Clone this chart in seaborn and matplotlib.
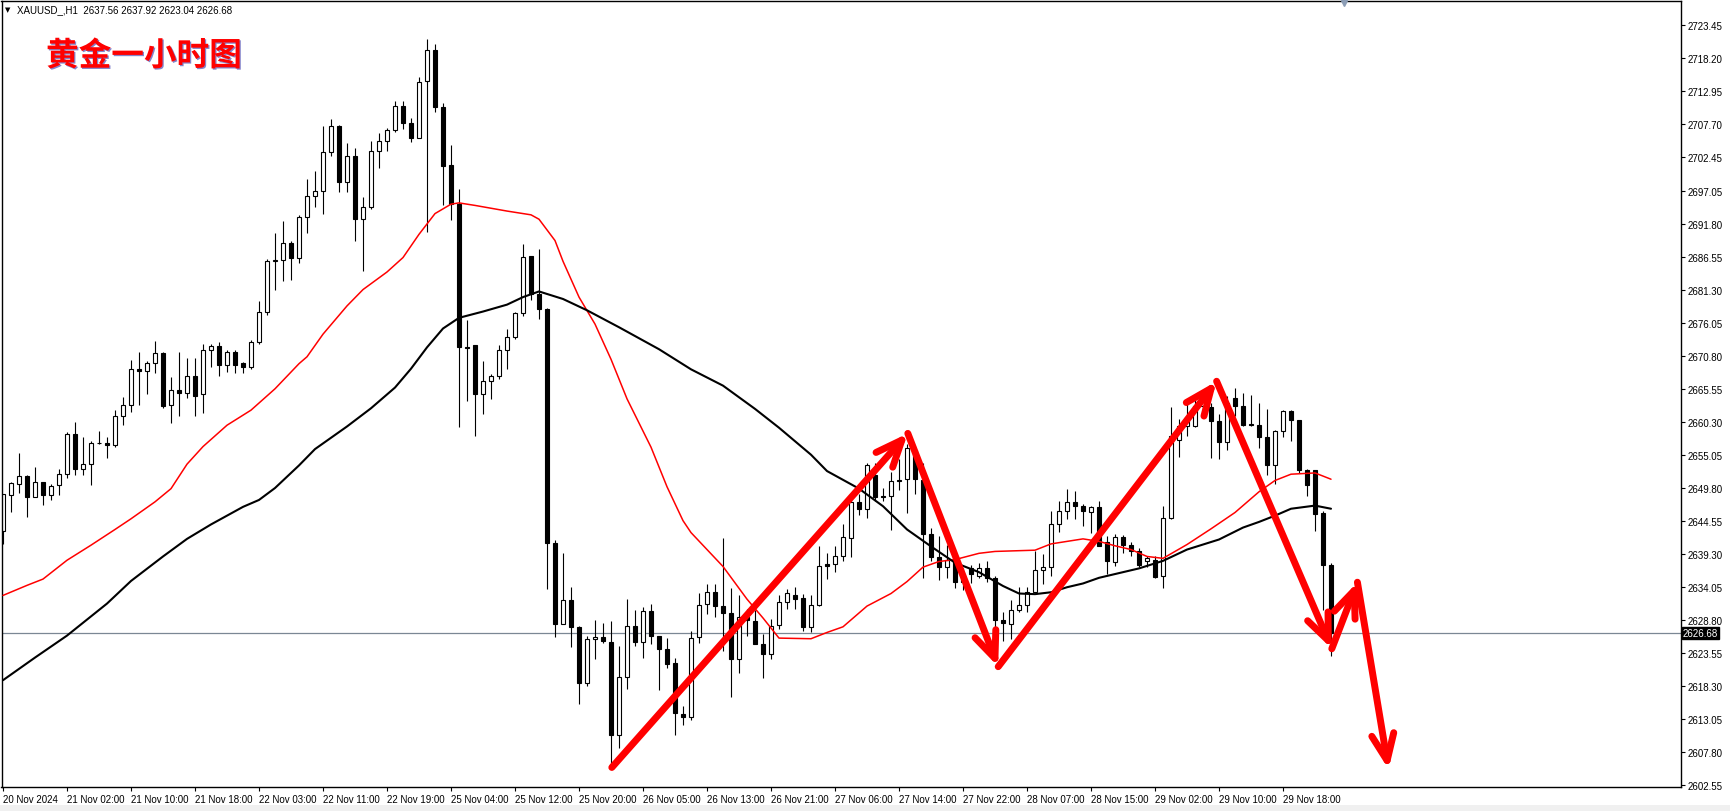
import numpy as np
import matplotlib
matplotlib.use("Agg")
import matplotlib.pyplot as plt
import matplotlib.patheffects as pe
import matplotlib.transforms as mtransforms
from matplotlib.patches import Rectangle
import seaborn as sns

sns.set_theme(style="white")
plt.rcParams["font.family"] = ["Liberation Sans", "DejaVu Sans"]

# XAUUSD H1 candles (oldest first)
opens = [
    2643.0, 2648.7, 2650.5, 2651.7, 2648.4, 2650.7, 2648.7, 2650.2, 2652.1, 2658.35,
    2652.8, 2653.6, 2656.9, 2656.9, 2656.65, 2661.2, 2663.0, 2668.7, 2668.5, 2669.7,
    2671.25, 2663.0, 2665.35, 2664.9, 2667.6, 2664.7, 2671.7, 2672.4, 2669.4, 2671.4,
    2669.7, 2669.0, 2673.0, 2677.8, 2686.0, 2686.05, 2688.8, 2686.5, 2692.9, 2696.35,
    2697.15, 2703.25, 2707.5, 2698.6, 2702.7, 2692.7, 2694.5, 2703.5, 2705.0, 2706.8,
    2710.7, 2708.0, 2705.6, 2714.65, 2719.6, 2710.5, 2701.2, 2695.0, 2672.3, 2672.6,
    2664.7, 2666.8, 2667.7, 2671.8, 2673.8, 2677.6, 2686.8, 2680.7, 2678.3, 2641.1,
    2628.2, 2631.9, 2627.7, 2618.8, 2625.7, 2626.0, 2625.2, 2610.5, 2619.7, 2627.9,
    2625.2, 2630.2, 2626.2, 2624.1, 2621.9, 2613.8, 2613.3, 2626.0, 2631.3, 2633.2,
    2631.0, 2629.85, 2622.5, 2629.3, 2628.6, 2624.9, 2623.4, 2628.0, 2631.6, 2632.7,
    2632.3, 2627.7, 2631.1, 2637.7, 2637.7, 2638.9, 2641.9, 2647.6, 2646.5, 2651.9,
    2648.6, 2648.6, 2651.0, 2651.2, 2655.9, 2651.0, 2642.5, 2638.8, 2637.2, 2638.4,
    2634.8, 2637.0, 2635.8, 2637.0, 2635.5, 2628.8, 2628.2, 2630.3, 2631.1, 2633.3,
    2636.75, 2637.2, 2644.1, 2646.1, 2647.5, 2646.9, 2646.0, 2646.7, 2641.2, 2638.0,
    2642.0, 2640.7, 2639.8, 2638.1, 2638.4, 2635.8, 2645.0, 2657.4, 2659.7, 2659.7,
    2662.9, 2662.65, 2660.5, 2657.2, 2664.1, 2662.8, 2660.0, 2659.9, 2657.9, 2653.4,
    2658.8, 2662.0, 2660.6, 2652.6, 2652.6, 2645.8, 2637.56,
]
highs = [
    2648.9, 2650.7, 2655.4, 2651.8, 2653.2, 2650.8, 2650.4, 2652.8, 2658.7, 2660.3,
    2658.0, 2657.3, 2658.8, 2658.0, 2662.2, 2664.3, 2670.2, 2671.4, 2670.0, 2673.2,
    2671.4, 2667.5, 2671.4, 2670.45, 2670.45, 2672.8, 2672.8, 2673.0, 2671.7, 2671.8,
    2669.9, 2673.4, 2679.5, 2686.3, 2690.4, 2692.3, 2689.1, 2693.2, 2699.0, 2700.3,
    2707.5, 2708.6, 2707.6, 2704.7, 2703.9, 2696.1, 2705.0, 2706.4, 2707.2, 2711.4,
    2711.4, 2708.7, 2715.2, 2721.3, 2720.5, 2711.1, 2704.4, 2697.4, 2676.5, 2672.6,
    2670.0, 2667.9, 2672.6, 2675.1, 2677.9, 2688.65, 2686.8, 2687.9, 2678.5, 2641.6,
    2639.5, 2634.1, 2627.8, 2626.3, 2628.8, 2628.3, 2628.6, 2624.7, 2632.1, 2630.4,
    2630.8, 2631.3, 2626.3, 2625.9, 2622.7, 2615.1, 2627.1, 2633.1, 2634.5, 2634.5,
    2641.8, 2633.8, 2632.7, 2630.5, 2630.3, 2626.5, 2629.0, 2632.8, 2633.7, 2634.0,
    2632.9, 2632.7, 2640.6, 2639.5, 2640.5, 2644.0, 2648.0, 2648.9, 2653.8, 2653.8,
    2649.8, 2652.4, 2654.4, 2656.8, 2656.5, 2653.8, 2643.4, 2642.2, 2640.7, 2638.5,
    2637.0, 2637.6, 2637.9, 2638.2, 2635.8, 2630.0, 2632.0, 2634.0, 2634.0, 2639.7,
    2639.3, 2646.2, 2647.8, 2649.6, 2649.4, 2647.3, 2647.0, 2647.8, 2642.2, 2642.5,
    2642.3, 2641.2, 2640.2, 2639.0, 2638.9, 2647.0, 2662.65, 2660.8, 2664.0, 2664.5,
    2665.2, 2663.4, 2661.6, 2664.5, 2665.7, 2665.0, 2664.6, 2663.4, 2662.4, 2659.0,
    2662.2, 2662.2, 2660.6, 2652.8, 2652.7, 2646.2, 2637.92,
]
lows = [
    2640.9, 2646.0, 2649.0, 2645.2, 2648.3, 2647.15, 2647.9, 2648.7, 2651.4, 2651.8,
    2651.9, 2650.3, 2656.8, 2654.5, 2656.4, 2659.9, 2661.85, 2663.0, 2664.7, 2668.1,
    2662.6, 2660.1, 2661.3, 2664.2, 2661.2, 2661.7, 2669.0, 2667.7, 2668.3, 2668.1,
    2668.1, 2668.75, 2672.7, 2677.3, 2681.4, 2682.8, 2683.0, 2685.7, 2690.4, 2694.6,
    2693.4, 2702.6, 2696.9, 2696.9, 2689.2, 2684.3, 2694.2, 2700.7, 2703.4, 2706.5,
    2706.9, 2704.95, 2705.6, 2690.5, 2709.7, 2694.8, 2692.4, 2659.5, 2663.7, 2658.1,
    2661.6, 2663.9, 2667.2, 2668.8, 2673.5, 2677.25, 2679.8, 2676.7, 2633.66, 2626.1,
    2628.1, 2624.5, 2615.4, 2618.2, 2622.5, 2625.1, 2605.3, 2608.4, 2617.8, 2624.7,
    2622.8, 2625.0, 2617.7, 2621.1, 2610.5, 2612.1, 2612.8, 2625.1, 2629.8, 2629.2,
    2623.9, 2616.6, 2620.3, 2626.3, 2624.9, 2619.5, 2622.6, 2627.3, 2630.6, 2630.5,
    2627.1, 2626.9, 2631.0, 2635.3, 2636.5, 2638.1, 2638.8, 2645.5, 2645.1, 2647.7,
    2647.7, 2643.1, 2649.5, 2645.8, 2648.9, 2635.5, 2638.2, 2635.2, 2635.5, 2633.8,
    2633.5, 2634.6, 2635.5, 2634.8, 2627.0, 2625.4, 2625.8, 2630.0, 2630.1, 2633.2,
    2634.5, 2635.8, 2642.8, 2644.8, 2644.9, 2643.8, 2642.6, 2640.6, 2636.1, 2637.4,
    2639.5, 2639.0, 2637.2, 2637.2, 2635.4, 2633.8, 2644.9, 2654.7, 2658.1, 2659.5,
    2662.0, 2654.5, 2654.4, 2655.8, 2661.3, 2659.6, 2659.7, 2656.1, 2651.8, 2650.4,
    2657.9, 2657.3, 2652.2, 2648.6, 2642.9, 2630.3, 2623.04,
]
closes = [
    2648.85, 2650.6, 2651.7, 2648.4, 2650.7, 2648.7, 2650.1, 2652.1, 2658.35, 2652.8,
    2653.6, 2656.9, 2657.0, 2656.7, 2661.3, 2663.0, 2668.7, 2668.5, 2669.7, 2671.25,
    2662.9, 2665.35, 2664.9, 2667.6, 2664.5, 2671.7, 2672.4, 2669.4, 2671.4, 2669.4,
    2669.0, 2673.0, 2677.8, 2685.9, 2686.1, 2688.8, 2686.5, 2692.9, 2696.35, 2697.15,
    2703.25, 2707.5, 2698.6, 2702.7, 2692.7, 2694.5, 2703.5, 2705.0, 2706.8, 2710.7,
    2708.0, 2705.6, 2714.4, 2719.6, 2710.5, 2701.0, 2695.0, 2672.2, 2672.1, 2664.7,
    2666.8, 2667.7, 2671.8, 2673.8, 2677.6, 2686.6, 2680.7, 2678.3, 2641.1, 2628.2,
    2631.9, 2627.7, 2618.8, 2625.7, 2626.0, 2625.4, 2610.45, 2619.7, 2627.9, 2625.2,
    2630.2, 2626.2, 2624.1, 2621.85, 2613.9, 2613.3, 2625.9, 2631.2, 2633.2, 2631.0,
    2629.85, 2622.5, 2629.3, 2628.8, 2624.9, 2623.3, 2627.9, 2631.6, 2633.1, 2632.2,
    2627.7, 2631.2, 2637.4, 2637.4, 2638.9, 2641.95, 2647.6, 2646.5, 2653.5, 2648.3,
    2648.3, 2650.9, 2650.9, 2656.2, 2651.2, 2642.5, 2638.8, 2637.2, 2638.4, 2634.8,
    2636.0, 2636.1, 2637.0, 2635.5, 2628.8, 2628.3, 2630.3, 2631.1, 2633.3, 2636.75,
    2637.3, 2644.1, 2646.1, 2647.5, 2646.9, 2646.1, 2646.7, 2640.6, 2638.1, 2642.0,
    2640.7, 2639.8, 2637.6, 2638.6, 2635.7, 2645.0, 2658.1, 2659.7, 2661.1, 2662.9,
    2663.9, 2660.5, 2657.2, 2663.3, 2662.8, 2659.8, 2659.9, 2657.9, 2653.4, 2658.8,
    2662.0, 2660.6, 2652.6, 2650.3, 2645.7, 2637.6, 2626.68,
]

# moving averages (red = fast, black = slow), sampled at these bars
red_ma_bars = [0, 3, 5, 8, 11, 14, 16, 19, 21, 23, 25, 28, 31, 34, 37, 38, 40, 43, 45, 48,
               50, 52, 54, 56, 57, 59, 63, 66, 67, 69, 70, 72, 74, 76, 78, 81, 83, 85, 86, 88,
               90, 93, 95, 97, 101, 103, 105, 108, 111, 113, 115, 117, 119, 122, 124, 129,
               131, 135, 137, 139, 141, 143, 145, 148, 151, 154, 157, 159, 161, 164, 166]
red_ma = [2632.7, 2634.3, 2635.3, 2638.3, 2640.7, 2643.2, 2644.9, 2647.6, 2649.7, 2653.6,
          2656.4, 2659.8, 2662.2, 2665.6, 2669.6, 2670.7, 2674.3, 2678.8, 2681.4, 2684.2,
          2686.5, 2690.2, 2693.5, 2695.0, 2695.2, 2694.8, 2693.9, 2693.3, 2692.6, 2689.2,
          2685.9, 2680.2, 2675.9, 2670.3, 2664.0, 2656.3, 2650.0, 2644.6, 2642.7, 2640.0,
          2637.3, 2632.1, 2629.1, 2625.9, 2625.8, 2626.8, 2627.7, 2631.0, 2633.0, 2634.9,
          2637.2, 2638.1, 2638.4, 2639.4, 2639.7, 2639.9, 2640.9, 2641.7, 2641.3, 2640.6,
          2640.0, 2638.9, 2638.6, 2640.8, 2643.3, 2645.9, 2649.2, 2651.0, 2652.0, 2652.2,
          2651.2]
black_ma_bars = [0, 4, 8, 13, 16, 20, 23, 26, 30, 32, 34, 37, 39, 43, 46, 49, 51, 53, 55, 57,
                 60, 63, 65, 67, 70, 73, 77, 82, 86, 90, 94, 97, 101, 103, 107, 110, 113, 116,
                 119, 122, 125, 127, 129, 131, 133, 135, 137, 139, 142, 145, 148, 152, 155,
                 157, 159, 161, 164, 166]
black_ma = [2619.2, 2622.8, 2626.3, 2631.4, 2635.0, 2638.9, 2641.7, 2644.0, 2646.8, 2647.9,
            2649.8, 2653.4, 2656.0, 2659.6, 2662.5, 2665.8, 2668.8, 2672.2, 2675.2, 2676.9,
            2677.9, 2679.0, 2680.2, 2681.1, 2679.9, 2678.1, 2675.4, 2671.9, 2668.7, 2666.1,
            2662.4, 2659.4, 2655.1, 2652.5, 2649.7, 2646.9, 2643.2, 2640.5, 2637.9, 2636.4,
            2634.2, 2633.0, 2632.9, 2633.2, 2634.0, 2634.6, 2635.5, 2636.1, 2637.0, 2638.2,
            2640.0, 2641.6, 2643.5, 2644.4, 2645.4, 2646.5, 2647.0, 2646.5]

# hand drawn red arrows (bar, price)
arrow_bars = [76.1, 113.1, 124.4, 151.7, 166.1, 169.3, 173.2]
arrow_prices = [2605.3, 2658.5, 2621.35, 2666.8, 2624.2, 2634.8, 2605.0]

tick_bars = list(range(0, 161, 8))
tick_labels = ["20 Nov 2024", "21 Nov 02:00", "21 Nov 10:00", "21 Nov 18:00",
               "22 Nov 03:00", "22 Nov 11:00", "22 Nov 19:00", "25 Nov 04:00",
               "25 Nov 12:00", "25 Nov 20:00", "26 Nov 05:00", "26 Nov 13:00",
               "26 Nov 21:00", "27 Nov 06:00", "27 Nov 14:00", "27 Nov 22:00",
               "28 Nov 07:00", "28 Nov 15:00", "29 Nov 02:00", "29 Nov 10:00",
               "29 Nov 18:00"]
price_ticks = [2723.45, 2718.20, 2712.95, 2707.70, 2702.45, 2697.05, 2691.80, 2686.55,
               2681.30, 2676.05, 2670.80, 2665.55, 2660.30, 2655.05, 2649.80, 2644.55,
               2639.30, 2634.05, 2628.80, 2623.55, 2618.30, 2613.05, 2607.80, 2602.55]

symbol = "XAUUSD_,H1"
title = "黄金一小时图"

o = np.array(opens)
h = np.array(highs)
l = np.array(lows)
c = np.array(closes)
x = np.arange(len(o))
bull = c >= o

fig = plt.figure(figsize=(17.3, 8.12), dpi=100)
fig.patch.set_facecolor("white")
ax = fig.add_axes([1.5 / 1730, 24 / 812, 1679.5 / 1730, 786 / 812])
ax.set_facecolor("white")

# candles
ax.vlines(x, l, h, color="black", linewidth=0.8, zorder=2)
body_bottom = np.minimum(o, c)
body_h = np.maximum(np.abs(c - o), 0.12)
ax.bar(x[bull], body_h[bull], bottom=body_bottom[bull], width=0.6,
       color="white", edgecolor="black", linewidth=0.8, zorder=2.5)
ax.bar(x[~bull], body_h[~bull], bottom=body_bottom[~bull], width=0.6,
       color="black", edgecolor="black", linewidth=0.8, zorder=2.5)

# moving averages
sns.lineplot(x=red_ma_bars, y=red_ma, color="#ff0000", linewidth=1.1, ax=ax, zorder=3)
sns.lineplot(x=black_ma_bars, y=black_ma, color="black", linewidth=1.5, ax=ax, zorder=3)

# current price line
last = closes[-1]
ax.axhline(last, color="#7b8794", linewidth=0.9, zorder=1.5)

# red arrows
for i in range(len(arrow_bars) - 1):
    ax.annotate("", xy=(arrow_bars[i + 1], arrow_prices[i + 1]),
                xytext=(arrow_bars[i], arrow_prices[i]),
                arrowprops=dict(arrowstyle="->,head_length=0.95,head_width=0.4",
                                color="#ff0000", lw=5, shrinkA=0, shrinkB=0,
                                mutation_scale=20),
                zorder=4)

ax.set_xlim(-0.19, 209.75)
ax.set_ylim(2602.19, 2727.35)
ax.grid(False)
ax.set_xlabel("")
ax.set_ylabel("")

for s in ax.spines.values():
    s.set_color("black")
    s.set_linewidth(1.0)
    s.set_visible(True)

ax.set_yticks(price_ticks)
ax.set_yticklabels([f"{v:.2f}" for v in price_ticks])
ax.yaxis.tick_right()
ax.tick_params(axis="y", which="major", right=True, left=False, labelright=True,
               labelleft=False, direction="out", length=3, width=0.8, pad=2,
               labelsize=7, colors="black")

ax.set_xticks(tick_bars)
ax.set_xticklabels(tick_labels)
ax.tick_params(axis="x", which="major", bottom=True, top=False, direction="out",
               length=3, width=0.8, pad=2, labelsize=7, colors="black")
for lab in ax.get_xticklabels():
    lab.set_horizontalalignment("left")

# current price tag on the price scale
tag = mtransforms.blended_transform_factory(ax.transAxes, ax.transData)
ax.text(1.0012, last, f"{last:.2f}", transform=tag, color="white", fontsize=7,
        ha="left", va="center", clip_on=False, zorder=5,
        bbox=dict(boxstyle="square,pad=0.12", facecolor="black", edgecolor="black"))

# chart shift marker on the top edge
top = mtransforms.blended_transform_factory(ax.transData, ax.transAxes)
ax.plot([len(o) + 0.6], [0.997], marker="v", markersize=5, color="#8c9db5",
        transform=top, clip_on=False, zorder=5)

# header
fig.text(5 / 1730, 1 - 10 / 812, "\u25bc", fontsize=5, family="DejaVu Sans",
         color="black", va="center", ha="left")
fig.text(17 / 1730, 1 - 10 / 812,
         f"{symbol}  {opens[-1]:.2f} {highs[-1]:.2f} {lows[-1]:.2f} {closes[-1]:.2f}",
         fontsize=7, color="black", va="center", ha="left")
fig.text(46 / 1730, 1 - 57 / 812, title, fontsize=23.5, fontweight="bold",
         family=["Noto Sans CJK SC", "DejaVu Sans"], color="#ff0000",
         va="center", ha="left",
         path_effects=[pe.SimplePatchShadow(offset=(0.9, -0.9), shadow_rgbFace="#2020a0",
                                            alpha=0.55), pe.Normal()])

# light grey status strip at the bottom
fig.patches.append(Rectangle((0, 0), 1, 6 / 812, transform=fig.transFigure,
                             facecolor="#f0f0f0", edgecolor="none", zorder=0))

fig.savefig("out.png", dpi=100)
